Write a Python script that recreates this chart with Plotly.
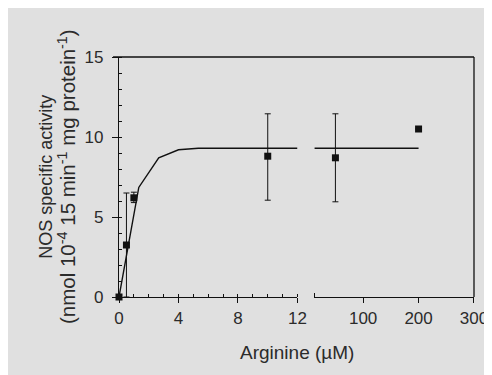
import plotly.graph_objects as go

# ---- data ----
low_x = [0, 0.5, 1.0, 10]
low_y = [0, 3.25, 6.2, 8.8]
low_err_plus = [0, 3.25, 0.35, 2.65]
low_err_minus = [0, 3.25, 0.3, 2.75]

high_x = [50, 200]
high_y = [8.7, 10.5]
high_err = [2.75, 0]

fit_low_x = [0, 1.33, 2.67, 4.0, 5.33, 12]
fit_low_y = [0, 6.85, 8.7, 9.2, 9.3, 9.3]
fit_high_x = [12, 200]
fit_high_y = [9.3, 9.3]

low_ticks = [0, 4, 8, 12]
high_ticks = [100, 200, 300]
y_ticks = [0, 5, 10, 15]

W, H = 492, 375
ML, MR, MT, MB = 111, 23, 49, 86
PW = W - ML - MR
PH = H - MT - MB

ink = "#111111"
txt = "#2b2b2b"
font = "Liberation Sans, Arial, sans-serif"

fig = go.Figure()

fig.add_trace(go.Scatter(x=fit_low_x, y=fit_low_y, mode="lines",
                         line=dict(color=ink, width=1.4), xaxis="x", yaxis="y",
                         cliponaxis=False, showlegend=False))
fig.add_trace(go.Scatter(x=fit_high_x, y=fit_high_y, mode="lines",
                         line=dict(color=ink, width=1.4), xaxis="x2", yaxis="y",
                         cliponaxis=False, showlegend=False))
fig.add_trace(go.Scatter(x=low_x, y=low_y, mode="markers",
                         marker=dict(symbol="square", size=7, color=ink),
                         error_y=dict(type="data", array=low_err_plus, arrayminus=low_err_minus,
                                      color=ink, thickness=1, width=3),
                         xaxis="x", yaxis="y", cliponaxis=False, showlegend=False))
fig.add_trace(go.Scatter(x=high_x, y=high_y, mode="markers",
                         marker=dict(symbol="square", size=7, color=ink),
                         error_y=dict(type="data", array=high_err,
                                      color=ink, thickness=1, width=3),
                         xaxis="x2", yaxis="y", cliponaxis=False, showlegend=False))

d1 = (291 - ML) / PW
d2 = (308 - ML) / PW

axis_common = dict(showline=True, linecolor=ink, linewidth=1.3, showgrid=False, zeroline=False,
                   ticks="outside", tickcolor=ink, tickwidth=1,
                   tickfont=dict(family=font, size=17, color=txt))

fig.update_layout(
    width=W, height=H,
    margin=dict(l=ML, r=MR, t=MT, b=MB, pad=0),
    paper_bgcolor="#e0e0e0",
    plot_bgcolor="rgba(0,0,0,0)",
    xaxis=dict(domain=[0, d1], range=[0, 12], tickvals=low_ticks, anchor="y", ticklen=5,
               ticklabelstandoff=0,
               minor=dict(dtick=1, tick0=0, ticks="inside", ticklen=3, tickcolor=ink, showgrid=False),
               **axis_common),
    xaxis2=dict(domain=[d2, 1], range=[12, 300], tickvals=[12] + high_ticks,
                ticktext=[""] + [str(v) for v in high_ticks], anchor="y", ticklen=5,
                ticklabelstandoff=0,
                minor=dict(tickvals=[12], ticks="inside", ticklen=4, tickcolor=ink, showgrid=False),
                **axis_common),
    yaxis=dict(range=[0, 15], tickvals=y_ticks, ticklen=6, ticklabelstandoff=5,
               minor=dict(dtick=1, tick0=0, ticks="inside", ticklen=3, tickcolor=ink, showgrid=False),
               **axis_common),
)

# top and right frame lines
fig.add_shape(type="line", xref="paper", yref="paper", x0=(105 - ML) / PW, x1=1, y0=1, y1=1,
              line=dict(color=ink, width=1.3))
fig.add_shape(type="line", xref="paper", yref="paper", x0=1, x1=1, y0=0, y1=1,
              line=dict(color=ink, width=1.3))

fig.add_annotation(xref="paper", yref="paper", x=0.5, y=0, yshift=-55,
                   xanchor="center", yanchor="middle",
                   text="Arginine (µM)", showarrow=False,
                   font=dict(family=font, size=19, color=txt))
fig.add_annotation(xref="paper", yref="paper", x=0, y=0.5, xshift=-62, textangle=-90,
                   xanchor="center", yanchor="middle",
                   text=("NOS specific activity<br>"
                         "<span style='font-size:20.5px'>(nmol 10<sup>-4</sup> 15 min<sup>-1</sup> "
                         "mg protein<sup>-1</sup>)</span>"),
                   showarrow=False, font=dict(family=font, size=18, color=txt))

fig.write_html("out.html")
